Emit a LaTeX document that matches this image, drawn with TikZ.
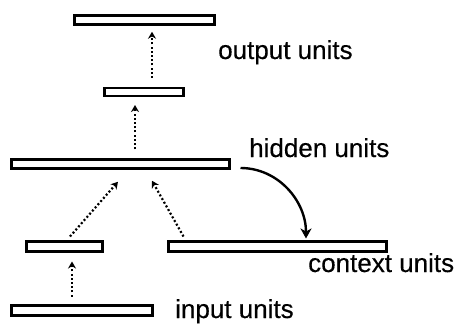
\documentclass[tikz,border=0pt]{standalone}
\usepackage{fontspec}
\setmainfont{Liberation Sans}[FakeBold=0.4]
\usetikzlibrary{arrows.meta}
\begin{document}
\begin{tikzpicture}[x=1pt,y=-1pt,
  layer/.style={draw, line width=2.7pt, rectangle, inner sep=0pt, outer sep=0pt},
  dotarrow/.style={line width=2.2pt, dash pattern=on 2pt off 2.2pt,
    -{Stealth[length=7pt,width=8pt]}},
  recur/.style={line width=2.4pt, -{Stealth[length=10pt,width=11pt,inset=3pt]}},
  lbl/.style={anchor=base west, inner sep=0pt, font=\fontsize{26}{30}\selectfont}]
\useasboundingbox (0,0) rectangle (460,326);

% layers of units
\node[layer, minimum width=140pt, minimum height=9.5pt] (out) at (144.5,20) {};
\node[layer, minimum width=79pt,  minimum height=8pt]   (h2)  at (144,92) {};
\node[layer, minimum width=218pt, minimum height=9.5pt] (hid) at (120.5,164) {};
\node[layer, minimum width=76pt,  minimum height=10pt]  (lft) at (64.5,246.5) {};
\node[layer, minimum width=218pt, minimum height=10pt]  (ctx) at (277.5,246.5) {};
\node[layer, minimum width=141pt, minimum height=10pt]  (inp) at (82,310.5) {};

% labels
\node[lbl] (lout) at (218,59)  {output units};
\node[lbl] (lhid) at (249,157) {hidden units};
\node[lbl] (lctx) at (308,272) {context units};
\node[lbl] (linp) at (175,318) {input units};

% feed-forward connections
\draw[dotarrow] ([xshift=-10pt,yshift=9pt]inp.north) -- ([xshift=-10pt,yshift=-10pt]inp.north |- lft.south);
\draw[dotarrow] ([xshift=5.5pt,yshift=5pt]lft.north) -- ([xshift=-2.5pt,yshift=-13pt]hid.south);
\draw[dotarrow] ([xshift=15pt,yshift=5pt]ctx.north west) -- ([xshift=31.5pt,yshift=-12pt]hid.south);
\draw[dotarrow] ([xshift=14.5pt,yshift=10pt]hid.north) -- ([xshift=-9pt,yshift=-9pt]h2.south);
\draw[dotarrow] ([xshift=8pt,yshift=10pt]h2.north) -- ([xshift=7.5pt,yshift=-7pt]out.south);

% copy of hidden activations into the context layer
\draw[recur] ([xshift=11pt,yshift=-4pt]hid.east) to[out=0,in=90] ([xshift=28.5pt,yshift=3pt]ctx.north);
\end{tikzpicture}
\end{document}
